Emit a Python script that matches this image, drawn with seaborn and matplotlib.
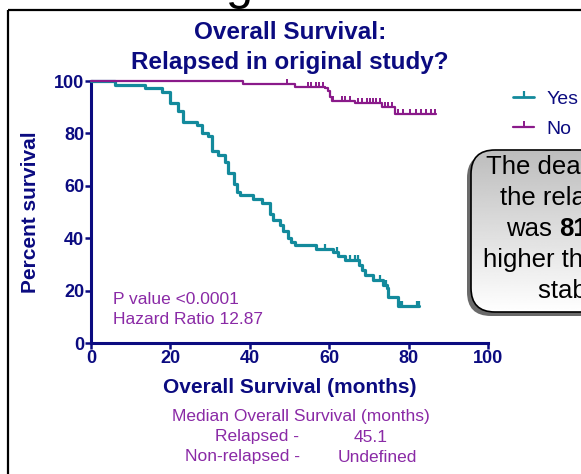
import numpy as np
import pandas as pd
import matplotlib
matplotlib.use('Agg')
import matplotlib.pyplot as plt
from matplotlib.lines import Line2D
from matplotlib.patches import FancyBboxPatch, Rectangle
import seaborn as sns

sns.set_theme(style='white')
plt.rcParams['font.family'] = ['Liberation Sans', 'DejaVu Sans']

# Kaplan-Meier steps, relapsed (Yes)
yes_t = [0, 6, 13.6, 17.8, 19.9, 22, 23.1, 26.6, 27.9, 29.5, 30.4, 32, 33.8, 34.6, 35.9, 36.7,
         37.5, 40.9, 43, 45.1, 45.9, 47.6, 48.4, 49.6, 50.5, 51.4, 56.8, 61, 62.2, 64, 67.5,
         68.2, 69, 71.1, 73.6, 74.5, 74.9, 77.4, 82.5]
yes_s = [100, 98.6, 97.2, 95.8, 91.5, 88.7, 84.5, 83.1, 80.3, 78.9, 73.2, 71.8, 69.0, 64.8, 60.6, 57.7,
         56.3, 54.9, 53.5, 49.3, 47.1, 45.0, 42.6, 40.1, 38.7, 37.3, 36.0, 34.6, 33.2, 31.5, 29.8,
         27.9, 26.0, 24.1, 22.1, 20.9, 17.7, 14.3, 14.3]
yes_cens = [58.9, 61.9, 65.2, 66.5, 67.3, 72.8, 74.3, 77.9, 78.3, 82.0, 82.5]

# non-relapsed (No)
no_t = [0, 38.3, 51.4, 59, 59.8, 60.2, 60.6, 66.5, 73.2, 76.6, 86.8]
no_s = [100, 98.9, 97.9, 97.2, 96.0, 94.0, 92.5, 91.5, 90.0, 87.4, 87.4]
no_cens = [49.3, 54.7, 55.5, 56.7, 57.5, 58.4, 61, 63.1, 64, 65.2, 67.3, 68.2, 69.5, 70.3, 71.1,
           71.9, 72.8, 74, 74.9, 75.7, 77.3, 78.6, 80.3, 81.9, 83.2, 84.5, 85.7, 86.6]

x_ticks = [0, 20, 40, 60, 80, 100]
y_ticks = [0, 20, 40, 60, 80, 100]

navy = '#0b0b80'
teal = '#138a9c'
purple = '#8a1a8a'
txt_purple = '#8a2aa6'


def step_at(times, surv, c):
    # value of the step-post curve at censor time c
    idx = np.searchsorted(times, c, side='right') - 1
    return surv[idx]


yes = pd.DataFrame({'t': yes_t, 's': yes_s})
no = pd.DataFrame({'t': no_t, 's': no_s})
yes_c = pd.DataFrame({'t': yes_cens, 's': [step_at(yes_t, yes_s, c) for c in yes_cens]})
no_c = pd.DataFrame({'t': no_cens, 's': [step_at(no_t, no_s, c) for c in no_cens]})

fig = plt.figure(figsize=(5.81, 4.74), dpi=100)
ax = fig.add_axes([91/581, 1-343/474, 397/581, 262/474])
ax.set_facecolor('none')

sns.lineplot(data=yes, x='t', y='s', ax=ax, color=teal, lw=2.3, drawstyle='steps-post',
             estimator=None, sort=False, clip_on=False, zorder=3)
sns.lineplot(data=no, x='t', y='s', ax=ax, color=purple, lw=1.6, drawstyle='steps-post',
             estimator=None, sort=False, clip_on=False, zorder=4)
ax.plot(yes_c['t'], yes_c['s'], ls='none', marker=2, ms=3.5, mew=1.6, color=teal, clip_on=False, zorder=3)
ax.plot(no_c['t'], no_c['s'], ls='none', marker=2, ms=3.5, mew=1.4, color=purple, clip_on=False, zorder=4)

ax.set_xlim(0, 100)
ax.set_ylim(0, 100)
ax.set_xticks(x_ticks)
ax.set_yticks(y_ticks)
for s in ['top', 'right']:
    ax.spines[s].set_visible(False)
for s in ['left', 'bottom']:
    ax.spines[s].set_color(navy)
    ax.spines[s].set_linewidth(2.2)
ax.tick_params(axis='both', colors=navy, direction='out', length=4, width=1.8, pad=1,
               labelsize=13, bottom=True, left=True)
for lab in ax.get_xticklabels() + ax.get_yticklabels():
    lab.set_fontweight('bold')
ax.set_xlabel('Overall Survival (months)', fontsize=15, fontweight='bold', color=navy)
ax.set_ylabel('Percent survival', fontsize=15, fontweight='bold', color=navy)
ax.xaxis.set_label_coords(0.5, (343 - 378) / 262)
ax.yaxis.set_label_coords((40 - 91) / 397, 0.5)

handles = [Line2D([], [], color=teal, lw=2.0, marker=2, ms=4, mew=1.6),
           Line2D([], [], color=purple, lw=1.6, marker=2, ms=4, mew=1.4)]
leg = fig.legend(handles, ['Yes', 'No'], loc='upper left', bbox_to_anchor=(513/581, 1-90/474),
                 frameon=False, fontsize=14, handlelength=1.1, handletextpad=0.6, labelspacing=0.65,
                 borderpad=0, borderaxespad=0)
for t in leg.get_texts():
    t.set_color(navy)

# overlay in pixel coordinates for the slide decorations
ov = fig.add_axes([0, 0, 1, 1], zorder=5)
ov.set_axis_off()
ov.patch.set_alpha(0)

ov.add_patch(Rectangle((8, 10), 700, 600, fill=False, ec='black', lw=1.6))
ov.text(240, -1, 'g', fontsize=35, ha='center', va='baseline', color='black')

ov.text(290, 32, 'Overall Survival:', fontsize=17.5, fontweight='bold', color=navy, ha='center', va='center')
ov.text(290, 62, 'Relapsed in original study?', fontsize=17.5, fontweight='bold', color=navy,
        ha='center', va='center')

ov.text(113, 299, 'P value <0.0001', fontsize=12.5, color=txt_purple, ha='left', va='center')
ov.text(113, 320, 'Hazard Ratio 12.87', fontsize=12.5, color=txt_purple, ha='left', va='center')

ov.text(301, 416, 'Median Overall Survival (months)', fontsize=12.5, color=txt_purple, ha='center', va='center')
ov.text(299, 437, 'Relapsed -', fontsize=12.5, color=txt_purple, ha='right', va='center')
ov.text(371, 437, '45.1', fontsize=12.5, color=txt_purple, ha='center', va='center')
ov.text(300, 457, 'Non-relapsed -', fontsize=12.5, color=txt_purple, ha='right', va='center')
ov.text(377, 457, 'Undefined', fontsize=12.5, color=txt_purple, ha='center', va='center')

# callout box with gradient
bx, by, bw, bh = 471, 150, 300, 162
shadow = FancyBboxPatch((bx - 4, by + 4), bw, bh, boxstyle='round,pad=0,rounding_size=24',
                        fc='#6a6a6a', ec='none')
ov.add_patch(shadow)
box = FancyBboxPatch((bx, by), bw, bh, boxstyle='round,pad=0,rounding_size=24',
                     fc='none', ec='black', lw=1.2, zorder=3)
ov.add_patch(box)
grad = np.linspace(0.74, 1.0, 256).reshape(-1, 1)
im = ov.imshow(grad, cmap='gray', vmin=0, vmax=1, extent=[bx, bx + bw, by + bh, by], origin='upper',
               aspect='auto', zorder=2)
im.set_clip_path(box)
ov.set_xlim(0, 581)
ov.set_ylim(474, 0)

fs_box = 18.5
ov.text(486, 174, 'The death rate in', fontsize=fs_box, color='black', ha='left', va='baseline', zorder=4)
ov.text(500, 205, 'the relapsed group', fontsize=fs_box, color='black', ha='left', va='baseline', zorder=4)
t_was = ov.text(506, 236, 'was ', fontsize=fs_box, color='black', ha='left', va='baseline', zorder=4)
ov.annotate('81%', xycoords=t_was, xy=(1, 0), va='bottom', ha='left', fontsize=fs_box,
            fontweight='bold', color='black', zorder=4)
ov.text(483, 267, 'higher than the', fontsize=fs_box, color='black', ha='left', va='baseline', zorder=4)
ov.text(538, 298, 'stable group', fontsize=fs_box, color='black', ha='left', va='baseline', zorder=4)

fig.savefig('out.png', dpi=100)
